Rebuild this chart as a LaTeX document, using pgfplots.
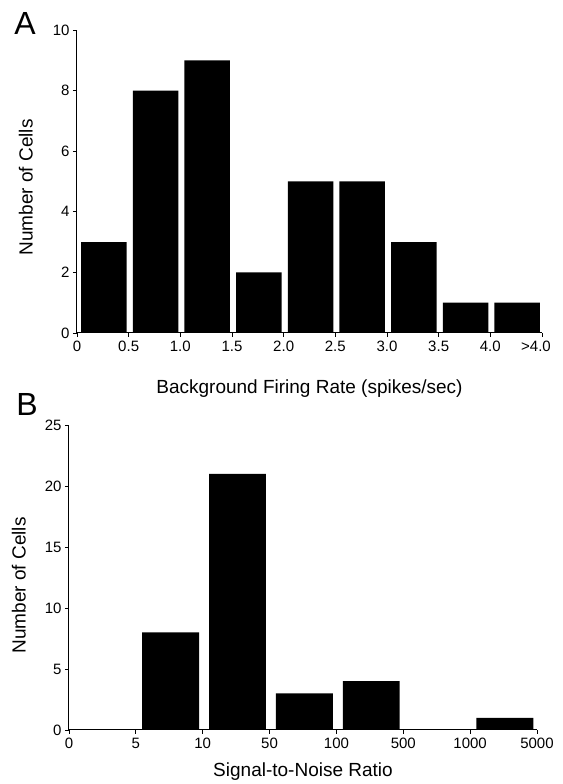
\documentclass[border=0pt]{standalone}
\usepackage{pgfplots}
\pgfplotsset{compat=1.18}
\usepackage{fontspec}
\setmainfont{Liberation Sans}
\begin{document}
\begin{tikzpicture}
\useasboundingbox (0pt,0pt) rectangle (562pt,784pt);
\pgfplotsset{
  common/.style={
    scale only axis,
    axis lines=left,
    axis line style={-, line width=1pt},
    tick align=outside,
    major tick length=4pt,
    tick style={black, line width=0.8pt},
    /pgf/number format/assume math mode=true,
    ticklabel style={font=\fontsize{15}{15}\selectfont},
    xticklabel style={text height=11pt, text depth=0pt},
    label style={font=\fontsize{19}{19}\selectfont},
    enlargelimits=false,
    ymin=0,
    clip=false,
  }
}
\begin{axis}[common,
  at={(77pt,451pt)}, anchor=south west,
  width=465pt, height=303pt,
  xmin=0, xmax=9, ymax=10,
  xtick={0,...,8},
  xticklabels={0,0.5,1.0,1.5,2.0,2.5,3.0,3.5,4.0},
  extra x ticks={9},
  extra x tick labels={>4.0},
  extra x tick style={xticklabel style={xshift=-6pt}},
  ytick={0,2,...,10},
  xlabel={Background Firing Rate (spikes/sec)},
  ylabel={Number of Cells},
  xlabel style={yshift=-13pt},
  ylabel style={yshift=13pt, xshift=-6pt},
]
\addplot[ybar, bar width=0.88, fill=black, draw=none] coordinates {
(0.52,3) (1.52,8) (2.52,9) (3.52,2) (4.52,5) (5.52,5) (6.52,3) (7.52,1) (8.52,1)};
\end{axis}
\begin{axis}[common,
  at={(69pt,54pt)}, anchor=south west,
  width=468pt, height=305pt,
  xmin=0, xmax=7, ymax=25,
  xtick={0,...,7},
  xticklabels={0,5,10,50,100,500,1000,5000},
  ytick={0,5,...,25},
  xlabel={Signal-to-Noise Ratio},
  ylabel={Number of Cells},
  xlabel style={yshift=-7pt},
  ylabel style={yshift=12pt, xshift=-8pt},
]
\addplot[ybar, bar width=0.85, fill=black, draw=none] coordinates {
(0.52,0) (1.52,8) (2.52,21) (3.52,3) (4.52,4) (5.52,0) (6.52,1)};
\end{axis}
\node[font=\fontsize{32}{32}\selectfont] at (25pt,760pt) {A};
\node[font=\fontsize{32}{32}\selectfont] at (27pt,380pt) {B};
\end{tikzpicture}
\end{document}
